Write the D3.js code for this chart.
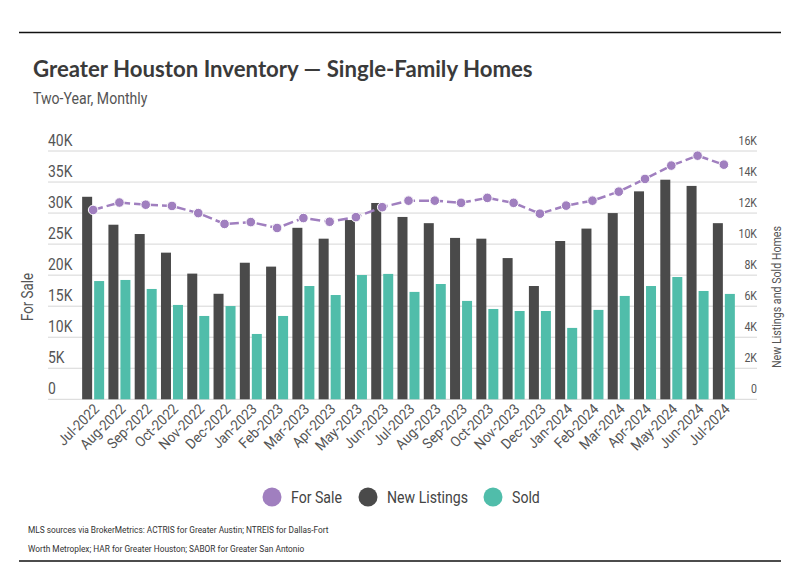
<html>
  <head>
    <script src="https://d3js.org/d3.v7.min.js"></script>
    <style>
      body { margin: 0; background: #fff; }
      text { font-family: "Roboto", sans-serif; }
    </style>
  </head>
  <body>
    <script>
      // data (Jul-2022 .. Jul-2024)
      var months = ["Jul-2022","Aug-2022","Sep-2022","Oct-2022","Nov-2022","Dec-2022","Jan-2023","Feb-2023",
        "Mar-2023","Apr-2023","May-2023","Jun-2023","Jul-2023","Aug-2023","Sep-2023","Oct-2023","Nov-2023",
        "Dec-2023","Jan-2024","Feb-2024","Mar-2024","Apr-2024","May-2024","Jun-2024","Jul-2024"]
      var forSale = [30500,31700,31350,31150,30000,28250,28550,27600,29200,28600,29350,30950,
        32000,32000,31650,32450,31650,29900,31200,32000,33450,35500,37650,39250,37800]
      var newListings = [13050,11250,10650,9450,8100,6800,8800,8550,11050,10350,11550,12650,
        11750,11350,10400,10350,9100,7300,10200,11000,12000,13400,14150,13750,11350]
      var sold = [7620,7690,7110,6080,5370,6010,4210,5370,7300,6720,8010,8080,
        6920,7430,6340,5820,5690,5690,4600,5760,6660,7300,7880,6980,6790]
      var leftTicks = [0,5000,10000,15000,20000,25000,30000,35000,40000]
      var rightTicks = [0,2000,4000,6000,8000,10000,12000,14000,16000]

      var width = 799
      var height = 575
      var purple = "#a07fbf", dark = "#4a4a4a", teal = "#50bdaa"

      var svg = d3.select("body").append("svg")
        .attr("width", width)
        .attr("height", height);

      // the reference uses a narrow face; squeeze Roboto horizontally to match
      function squeeze(sel, f) {
        sel.each(function() {
          var len = this.getComputedTextLength();
          d3.select(this).attr("textLength", len * f).attr("lengthAdjust", "spacingAndGlyphs");
        });
      }

      // frame lines
      svg.append("line").attr("x1", 19).attr("x2", 781).attr("y1", 32.5).attr("y2", 32.5)
        .style("stroke", "#111").style("stroke-width", 1.5);
      svg.append("line").attr("x1", 19).attr("x2", 781).attr("y1", 561).attr("y2", 561)
        .style("stroke", "#111").style("stroke-width", 1.5);

      // title
      svg.append("text").attr("x", 33).attr("y", 77)
        .style("font-family", "Lato").style("font-weight", 700).style("font-size", "22.2px")
        .style("fill", "#3a3a3a")
        .text("Greater Houston Inventory \u2014 Single-Family Homes");
      svg.append("text").attr("x", 33).attr("y", 104)
        .style("font-size", "16px").style("fill", "#555")
        .text("Two-Year, Monthly")
        .call(squeeze, 0.88);

      // scales
      var x = d3.scaleBand().domain(months).range([80, 737]).padding(0);
      var yL = d3.scaleLinear().domain([0, 40000]).range([399.3, 151]);
      var yR = d3.scaleLinear().domain([0, 16000]).range([399.3, 151]);
      var bw = 10

      // gridlines
      svg.append("g").selectAll("line").data(leftTicks).join("line")
        .attr("x1", 48).attr("x2", 757)
        .attr("y1", d => yL(d)).attr("y2", d => yL(d))
        .style("stroke", "#d6d6d6").style("stroke-width", 1);

      // left tick labels (above gridline)
      svg.append("g").selectAll("text").data(leftTicks).join("text")
        .attr("x", 48).attr("y", d => yL(d) - 5)
        .style("font-size", "16px").style("fill", "#555")
        .text(d => d === 0 ? "0" : (d / 1000) + "K")
        .call(squeeze, 0.87);

      // right tick labels
      svg.append("g").selectAll("text").data(rightTicks).join("text")
        .attr("x", 757).attr("y", d => yR(d) - 6)
        .attr("text-anchor", "end")
        .style("font-size", "12px").style("fill", "#555")
        .text(d => d === 0 ? "0" : (d / 1000) + "K")
        .call(squeeze, 0.88);

      // axis titles
      svg.append("text").attr("transform", "translate(33,297) rotate(-90)")
        .attr("text-anchor", "middle")
        .style("font-size", "16px").style("fill", "#555")
        .text("For Sale")
        .call(squeeze, 0.83);
      svg.append("text").attr("transform", "translate(781,297) rotate(-90)")
        .attr("text-anchor", "middle")
        .style("font-size", "13px").style("fill", "#555")
        .text("New Listings and Sold Homes")
        .call(squeeze, 0.82);

      // bars
      svg.append("g").selectAll("rect").data(months).join("rect")
        .attr("x", (d) => x(d) + x.bandwidth() / 2 - bw - 1)
        .attr("y", (d, i) => yR(newListings[i]))
        .attr("width", bw)
        .attr("height", (d, i) => yR(0) - yR(newListings[i]))
        .style("fill", dark);
      svg.append("g").selectAll("rect").data(months).join("rect")
        .attr("x", (d) => x(d) + x.bandwidth() / 2 + 1)
        .attr("y", (d, i) => yR(sold[i]))
        .attr("width", bw)
        .attr("height", (d, i) => yR(0) - yR(sold[i]))
        .style("fill", teal);

      // for sale line
      var line = d3.line()
        .x((d, i) => x(months[i]) + x.bandwidth() / 2)
        .y(d => yL(d));
      svg.append("path").datum(forSale)
        .attr("d", line)
        .style("fill", "none")
        .style("stroke", purple)
        .style("stroke-width", 2.5)
        .style("stroke-dasharray", "10,4");
      svg.append("g").selectAll("circle").data(forSale).join("circle")
        .attr("cx", (d, i) => x(months[i]) + x.bandwidth() / 2)
        .attr("cy", d => yL(d))
        .attr("r", 4.8)
        .style("fill", purple)
        .style("stroke", "#fff")
        .style("stroke-width", 1);

      // x labels
      svg.append("g").selectAll("text").data(months).join("text")
        .attr("transform", d => "translate(" + (x(d) + x.bandwidth() / 2 + 7) + ",410) rotate(-45)")
        .attr("text-anchor", "end")
        .style("font-size", "14.5px").style("fill", "#555")
        .text(d => d)
        .call(squeeze, 0.92);

      // legend
      var legend = [["For Sale", purple, 272], ["New Listings", dark, 368], ["Sold", teal, 493]]
      var lg = svg.append("g").selectAll("g").data(legend).join("g");
      lg.append("circle").attr("cx", d => d[2]).attr("cy", 497).attr("r", 9.5)
        .style("fill", d => d[1]);
      lg.append("text").attr("x", d => d[2] + 19).attr("y", 503)
        .style("font-size", "17px").style("fill", "#444")
        .text(d => d[0])
        .call(squeeze, 0.83);

      // footer
      svg.append("text").attr("x", 28).attr("y", 533)
        .style("font-size", "9.5px").style("fill", "#333")
        .text("MLS sources via BrokerMetrics: ACTRIS for Greater Austin; NTREIS for Dallas-Fort")
        .call(squeeze, 0.875);
      svg.append("text").attr("x", 28).attr("y", 552)
        .style("font-size", "9.5px").style("fill", "#333")
        .text("Worth Metroplex; HAR for Greater Houston; SABOR for Greater San Antonio")
        .call(squeeze, 0.875);
    </script>
  </body>
</html>
